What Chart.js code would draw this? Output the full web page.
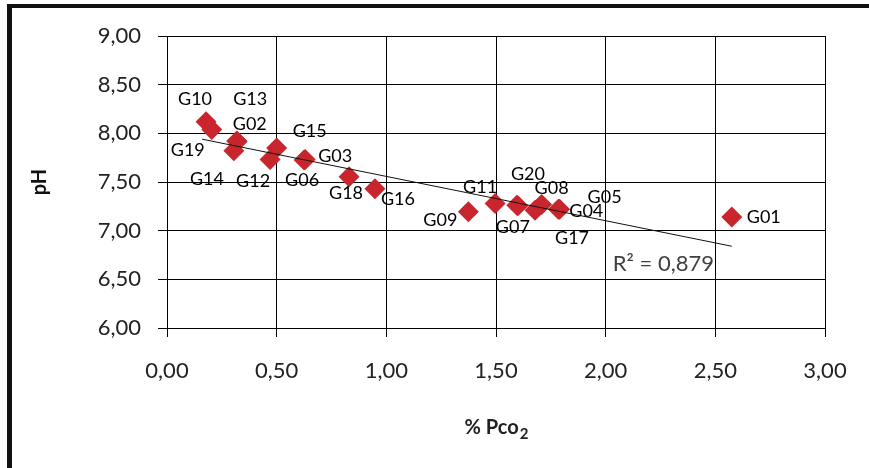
<!DOCTYPE html>
<html><head><meta charset="utf-8">
<script src="https://cdn.jsdelivr.net/npm/chart.js@4"></script>
<style>
html,body{margin:0;padding:0;background:#fff;}
#wrap{position:relative;width:869px;height:468px;overflow:hidden;background:#fff;}
#frame{position:absolute;left:7px;top:4px;width:900px;height:500px;border-top:4px solid #111;border-left:5px solid #111;pointer-events:none;}
canvas{position:absolute;left:0;top:0;}
</style></head><body>
<div id="wrap"><canvas id="c" width="869" height="468"></canvas><div id="frame"></div></div>
<script>
// ---- data ----
const sampleNames = ['G01','G02','G03','G04','G05','G06','G07','G08','G09','G10','G11','G12','G13','G14','G15','G16','G17','G18','G19','G20'];
const pco2 = [2.575, 0.318, 0.63, 1.784, 1.79, 0.625, 1.595, 1.708, 1.374, 0.178, 1.496, 0.47, 0.32, 0.305, 0.50, 0.948, 1.678, 0.83, 0.204, 1.60];
const ph   = [7.14, 7.92, 7.73, 7.22, 7.22, 7.725, 7.26, 7.27, 7.195, 8.12, 7.28, 7.73, 7.915, 7.82, 7.85, 7.43, 7.21, 7.555, 8.04, 7.255];
const trendX = [0.16, 2.575];
const trendY = [7.94, 6.84];
const rSquaredText = 'R² = 0,879';
const xTitleMain = '% Pco';
const xTitleSub = '2';
const yTitle = 'pH';
const xMin = 0, xMax = 3, xStep = 0.5;
const yMin = 6, yMax = 9, yStep = 0.5;

// label offsets (layout only), in px relative to each marker
const labelOffsets = {
  G01:[32,0], G02:[13,-17], G03:[30,-3], G04:[28,2], G05:[45,-12], G06:[-2,20], G07:[-4,22],
  G08:[10,-16], G09:[-28,9], G10:[-11,-22], G11:[-15,-16], G12:[-17,22], G13:[13,-42], G14:[-27,28],
  G15:[33,-17], G16:[23,10], G17:[37,28], G18:[-3,17], G19:[-24,21], G20:[10,-32]
};

const fmt = v => Number(v).toFixed(2).replace('.', ',');
const FONT = 'Lato, "Open Sans", sans-serif';

const labelPlugin = {
  id: 'pointLabels',
  afterDatasetsDraw(chart) {
    const ctx = chart.ctx;
    const meta = chart.getDatasetMeta(1);
    ctx.save();
    ctx.font = '18px ' + FONT;
    ctx.fillStyle = '#000';
    ctx.textAlign = 'center';
    ctx.textBaseline = 'middle';
    meta.data.forEach((pt, i) => {
      const name = sampleNames[i];
      const o = labelOffsets[name] || [0, 0];
      ctx.fillText(name, pt.x + o[0], pt.y + o[1]);
    });
    // R² text near the end of the trend line
    const tm = chart.getDatasetMeta(0);
    const end = tm.data[tm.data.length - 1];
    ctx.font = '22px ' + FONT;
    ctx.fillStyle = '#404040';
    ctx.textAlign = 'left';
    ctx.textBaseline = 'alphabetic';
    ctx.fillText(rSquaredText, end.x - 119, end.y + 25);

    // x axis title with subscript
    const ca = chart.chartArea;
    const cx = (ca.left + ca.right) / 2;
    const baseY = 434;
    ctx.fillStyle = '#222';
    ctx.font = 'bold 20px ' + FONT;
    const w1 = ctx.measureText(xTitleMain).width;
    ctx.font = 'bold 15px ' + FONT;
    const w2 = ctx.measureText(xTitleSub).width;
    const startX = cx - (w1 + w2) / 2;
    ctx.font = 'bold 20px ' + FONT;
    ctx.fillText(xTitleMain, startX, baseY);
    ctx.font = 'bold 15px ' + FONT;
    ctx.fillText(xTitleSub, startX + w1 + 1, baseY + 5);
    ctx.restore();
  }
};

new Chart(document.getElementById('c'), {
  type: 'scatter',
  data: {
    datasets: [
      {
        label: 'trend',
        data: trendX.map((x, i) => ({x, y: trendY[i]})),
        showLine: true,
        borderColor: '#111',
        borderWidth: 1,
        pointRadius: 0,
        order: 0
      },
      {
        label: 'pH',
        data: pco2.map((x, i) => ({x, y: ph[i]})),
        pointStyle: 'rectRot',
        pointRadius: 10.5,
        pointBackgroundColor: '#C8262C',
        pointBorderColor: '#C8262C',
        pointBorderWidth: 0,
        order: 1
      }
    ]
  },
  options: {
    responsive: false,
    animation: false,
    devicePixelRatio: 1,
    layout: { padding: { left: 0, right: 44, top: 36, bottom: 0 } },
    plugins: { legend: { display: false }, tooltip: { enabled: false } },
    scales: {
      x: {
        type: 'linear', position: 'bottom', min: xMin, max: xMax,
        ticks: { stepSize: xStep, callback: v => fmt(v), font: { family: FONT, size: 22 }, color: '#222', padding: 21, maxRotation: 0 },
        grid: { color: '#000', lineWidth: 1, tickLength: 9, drawTicks: true },
        border: { color: '#000', width: 1 },
        title: { display: false },
        afterFit: s => { s.height = 140; }
      },
      y: {
        type: 'linear', position: 'left', min: yMin, max: yMax,
        ticks: { stepSize: yStep, callback: v => fmt(v), font: { family: FONT, size: 22 }, color: '#222', padding: 17 },
        grid: { color: '#000', lineWidth: 1, tickLength: 9, drawTicks: true },
        border: { color: '#000', width: 1 },
        title: { display: true, text: yTitle, font: { family: FONT, size: 20, weight: 'bold' }, color: '#111', padding: { top: 28, bottom: 0 } },
        afterFit: s => { s.width = 167; }
      }
    }
  },
  plugins: [labelPlugin]
});
</script>
</body></html>
